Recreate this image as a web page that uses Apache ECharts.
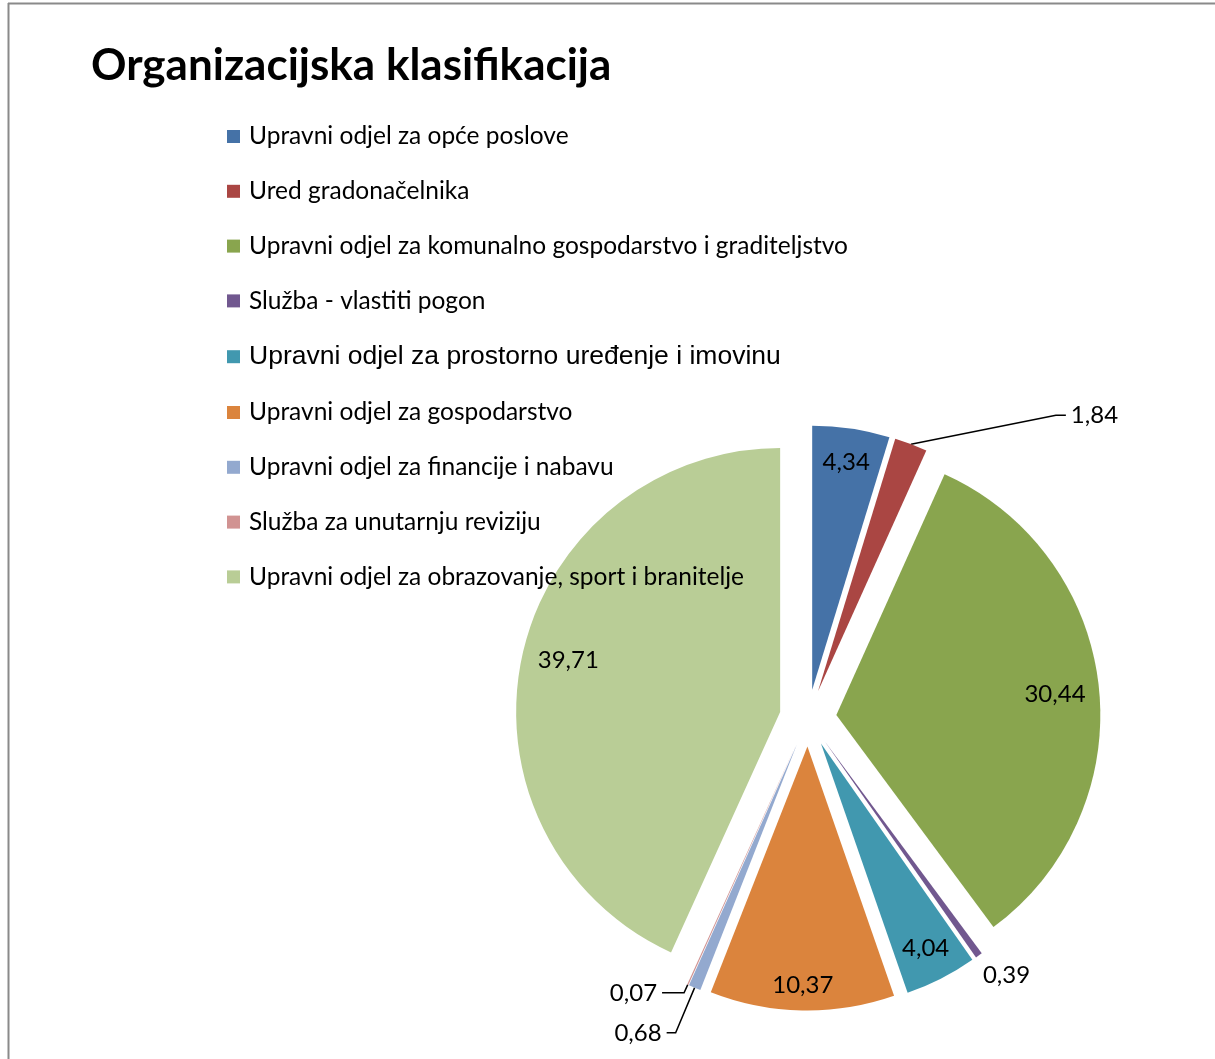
<!DOCTYPE html>
<html>
<head>
<meta charset="utf-8">
<script src="https://cdn.jsdelivr.net/npm/echarts@6/dist/echarts.min.js"></script>
<style>
  html, body { margin: 0; padding: 0; background: #fff; }
  #chart { width: 1215px; height: 1059px; }
</style>
</head>
<body>
<div id="chart"></div>
<script>
// ---- data ----
var categories = [
  'Upravni odjel za opće poslove',
  'Ured gradonačelnika',
  'Upravni odjel za komunalno gospodarstvo i graditeljstvo',
  'Služba - vlastiti pogon',
  'Upravni odjel za prostorno uređenje i imovinu',
  'Upravni odjel za gospodarstvo',
  'Upravni odjel za financije i nabavu',
  'Služba za unutarnju reviziju',
  'Upravni odjel za obrazovanje, sport i branitelje'
];
var values = [4.34, 1.84, 30.44, 0.39, 4.04, 10.37, 0.68, 0.07, 39.71];
var colors = ['#4572A7', '#AA4643', '#89A54E', '#71588F', '#4198AF', '#DB843D', '#93A9CF', '#D19392', '#B9CD96'];
var titleText = 'Organizacijska klasifikacija';

// ---- styling helpers ----
var insideIdx = [0, 2, 4, 5, 8];
var insideNudge = { 2: [-10, 4], 5: [0, 9], 8: [13, -3] };
var outsideCfg = {
  1: { length: 31, length2: 144, lineShow: true, dist: 5 },
  3: { length: 24, length2: 0, lineShow: false, dist: -10 },
  6: { length: 49, length2: 9, lineShow: true, dist: 5 },
  7: { length: 9, length2: 22, lineShow: true, dist: 5 }
};
function fmt(v) { return v.toFixed(2).replace('.', ','); }

var CENTER = [808, 718];
var R = 264;
var OFFSET = 28.5;
var labelFont = { fontFamily: 'Lato', fontSize: 24, color: '#000' };

var mainData = categories.map(function (name, i) {
  var item = { name: name, value: values[i], selected: true, itemStyle: { color: colors[i] } };
  var c = outsideCfg[i];
  if (c) {
    item.label = Object.assign({ show: true, position: 'outside', distanceToLabelLine: c.dist,
      formatter: function (p) { return fmt(p.value); } }, labelFont);
    item.labelLine = { show: c.lineShow, length: c.length, length2: c.length2,
      lineStyle: { color: '#000', width: 1.5 } };
  } else {
    item.label = { show: false };
    item.labelLine = { show: false };
  }
  return item;
});

var overlayData = categories.map(function (name, i) {
  var show = insideIdx.indexOf(i) >= 0;
  return { name: name, value: values[i], selected: true,
    label: Object.assign({ show: show, position: 'inside',
      formatter: function (p) { return fmt(p.value); } }, labelFont) };
});

var chart = echarts.init(document.getElementById('chart'), null, { renderer: 'canvas' });
chart.setOption({
  backgroundColor: '#fff',
  animation: false,
  title: {
    text: titleText,
    left: 86,
    top: 39,
    textStyle: { fontFamily: 'Lato', fontWeight: 'bold', fontSize: 44, color: '#000' }
  },
  legend: {
    orient: 'vertical',
    left: 222,
    top: 119,
    itemWidth: 13,
    itemHeight: 13,
    itemGap: 29.8,
    icon: 'rect',
    selectedMode: false,
    data: categories,
    formatter: function (name) {
      if (name === categories[4]) return '{b|' + name + '}';
      return name;
    },
    textStyle: {
      fontFamily: 'Lato', fontSize: 24.5, color: '#000', lineHeight: 24, padding: [0, 0, 0, 4],
      rich: { b: { fontFamily: 'Liberation Sans', fontSize: 26.5, color: '#000', lineHeight: 24 } }
    }
  },
  graphic: [
    { type: 'line', shape: { x1: 8, y1: 3.5, x2: 1215, y2: 3.5 }, style: { stroke: '#8a8a8a', lineWidth: 2 }, silent: true },
    { type: 'line', shape: { x1: 8.5, y1: 3, x2: 8.5, y2: 1059 }, style: { stroke: '#8a8a8a', lineWidth: 2 }, silent: true }
  ],
  series: [
    {
      type: 'pie',
      center: CENTER,
      radius: [0, R],
      startAngle: 90,
      clockwise: true,
      selectedMode: 'multiple',
      selectedOffset: OFFSET,
      avoidLabelOverlap: false,
      emphasis: { disabled: true },
      itemStyle: { borderWidth: 0 },
      data: mainData,
      labelLayout: function (p) {
        // Excel-style leader for the small red slice: long slanted run, short horizontal tail
        if (p.dataIndex === 1 && p.labelLinePoints) {
          var a = p.labelLinePoints[0], c = p.labelLinePoints[2];
          return { labelLinePoints: [a, [c[0] - 10, c[1]], c] };
        }
        return {};
      },
      z: 2
    },
    {
      type: 'pie',
      center: CENTER,
      radius: [190, R],
      startAngle: 90,
      clockwise: true,
      selectedMode: 'multiple',
      selectedOffset: OFFSET,
      avoidLabelOverlap: false,
      silent: true,
      emphasis: { disabled: true },
      itemStyle: { color: 'rgba(0,0,0,0)', borderWidth: 0 },
      labelLine: { show: false },
      data: overlayData,
      labelLayout: function (p) {
        var n = insideNudge[p.dataIndex];
        return n ? { dx: n[0], dy: n[1] } : {};
      },
      z: 3
    }
  ]
});
</script>
</body>
</html>
